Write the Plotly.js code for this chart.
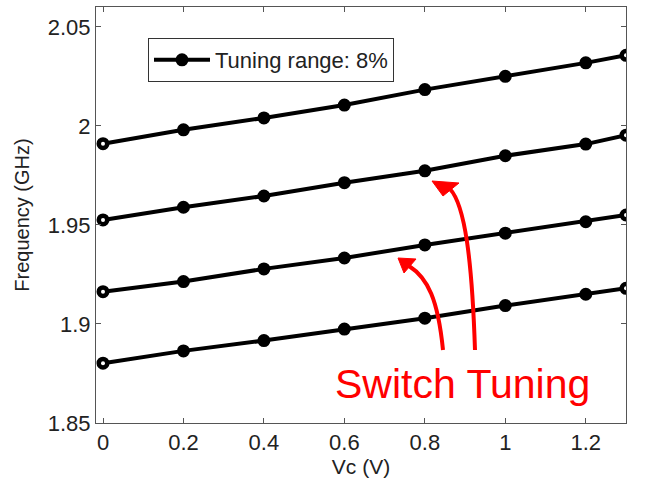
<!DOCTYPE html>
<html>
<head>
<meta charset="utf-8">
<script src="https://cdn.plot.ly/plotly-3.0.1.min.js"></script>
<style>html,body{margin:0;padding:0;background:#fff;}#chart{width:656px;height:483px;}</style>
</head>
<body>
<div id="chart"></div>
<script>
// Data
const vc = [0, 0.2, 0.4, 0.6, 0.8, 1.0, 1.2, 1.3];
const freqBand4 = [1.991, 1.998, 2.004, 2.0105, 2.0183, 2.025, 2.0318, 2.0356];
const freqBand3 = [1.9525, 1.9589, 1.9646, 1.9713, 1.9773, 1.9849, 1.9908, 1.9953];
const freqBand2 = [1.9163, 1.9214, 1.9278, 1.9333, 1.9399, 1.9458, 1.9516, 1.955];
const freqBand1 = [1.8802, 1.8864, 1.8916, 1.8974, 1.9029, 1.9093, 1.915, 1.918];
const legendLabel = "Tuning range: 8%";
const xTickVals = [0, 0.2, 0.4, 0.6, 0.8, 1, 1.2];
const yTickVals = [1.85, 1.9, 1.95, 2, 2.05];

const FONT = "Liberation Sans, Arial, Helvetica, sans-serif";
const XR = [-0.0174, 1.3], YR = [1.85, 2.06];
const M = {l: 96, r: 30, t: 7, b: 60};
const W = 656, H = 483;
const pw = W - M.l - M.r, ph = H - M.t - M.b;
// pixel -> data helpers (for annotation arrows only)
const dx = p => XR[0] + (p - M.l) / pw * (XR[1] - XR[0]);
const dy = p => YR[0] + (M.t + ph - p) / ph * (YR[1] - YR[0]);

const series = [freqBand4, freqBand3, freqBand2, freqBand1];
const traces = series.map((ys, k) => ({
  x: vc, y: ys, type: 'scatter', mode: 'lines+markers',
  name: legendLabel, showlegend: k === 0,
  line: {color: 'black', width: 4},
  marker: {size: 10, color: 'black', line: {color: 'black', width: 3}}
}));
// small light centre visible in the end-point markers
series.forEach(ys => {
  const last = vc.length - 1;
  traces.push({
    x: [vc[0], vc[last]], y: [ys[0], ys[last]], type: 'scatter', mode: 'markers',
    showlegend: false, hoverinfo: 'skip',
    marker: {size: 4, color: 'white'}
  });
});

function curve(pts){
  let s = `M${dx(pts[0][0])},${dy(pts[0][1])} C`;
  s += pts.slice(1).map(p => `${dx(p[0])},${dy(p[1])}`).join(' ');
  return s;
}
function tri(pts){
  return 'M' + pts.map(p => `${dx(p[0])},${dy(p[1])}`).join(' L') + ' Z';
}
const RED = '#ff0000';
const shapes = [
  {type:'path', xref:'x', yref:'y', path: curve([[443,350],[438,300],[428,278],[409,266]]), line:{color:RED, width:4}},
  {type:'path', xref:'x', yref:'y', path: tri([[398,258],[416,259],[404,273]]), fillcolor:RED, line:{color:RED, width:1}},
  {type:'path', xref:'x', yref:'y', path: curve([[475,350],[472,260],[465,205],[450,189]]), line:{color:RED, width:4}},
  {type:'path', xref:'x', yref:'y', path: tri([[432,181],[459,183],[443,196]]), fillcolor:RED, line:{color:RED, width:1}}
];

const axisCommon = {
  showline: true, linecolor: '#555', linewidth: 1, mirror: 'ticks',
  ticks: 'inside', ticklen: 5, tickcolor: '#555', tickwidth: 1,
  showgrid: false, zeroline: false,
  tickfont: {family: FONT, size: 22, color: '#222'}
};

const layout = {
  width: W, height: H, margin: M,
  paper_bgcolor: 'white', plot_bgcolor: 'white',
  font: {family: FONT, color: '#222'},
  xaxis: Object.assign({}, axisCommon, {
    range: XR, tickvals: xTickVals, ticktext: xTickVals.map(String),
    title: {text: 'Vc (V)', font: {family: FONT, size: 21, color: '#222'}, standoff: 2}
  }),
  yaxis: Object.assign({}, axisCommon, {
    range: YR, tickvals: yTickVals, ticktext: yTickVals.map(String),
    title: {text: 'Frequency (GHz)', font: {family: FONT, size: 20, color: '#222'}, standoff: 12}
  }),
  showlegend: true,
  legend: {
    x: (148 - M.l) / pw, y: (M.t + ph - 38) / ph, xanchor: 'left', yanchor: 'top',
    bgcolor: 'white', bordercolor: '#333', borderwidth: 1,
    itemwidth: 56,
    font: {family: FONT, size: 22, color: '#222'}
  },
  shapes: shapes,
  annotations: [{
    x: dx(462), y: dy(384), xref: 'x', yref: 'y', text: 'Switch Tuning', showarrow: false,
    font: {family: FONT, size: 41, color: RED}, xanchor: 'center', yanchor: 'middle'
  }]
};

Plotly.newPlot('chart', traces, layout, {displayModeBar: false, staticPlot: true});
</script>
</body>
</html>
